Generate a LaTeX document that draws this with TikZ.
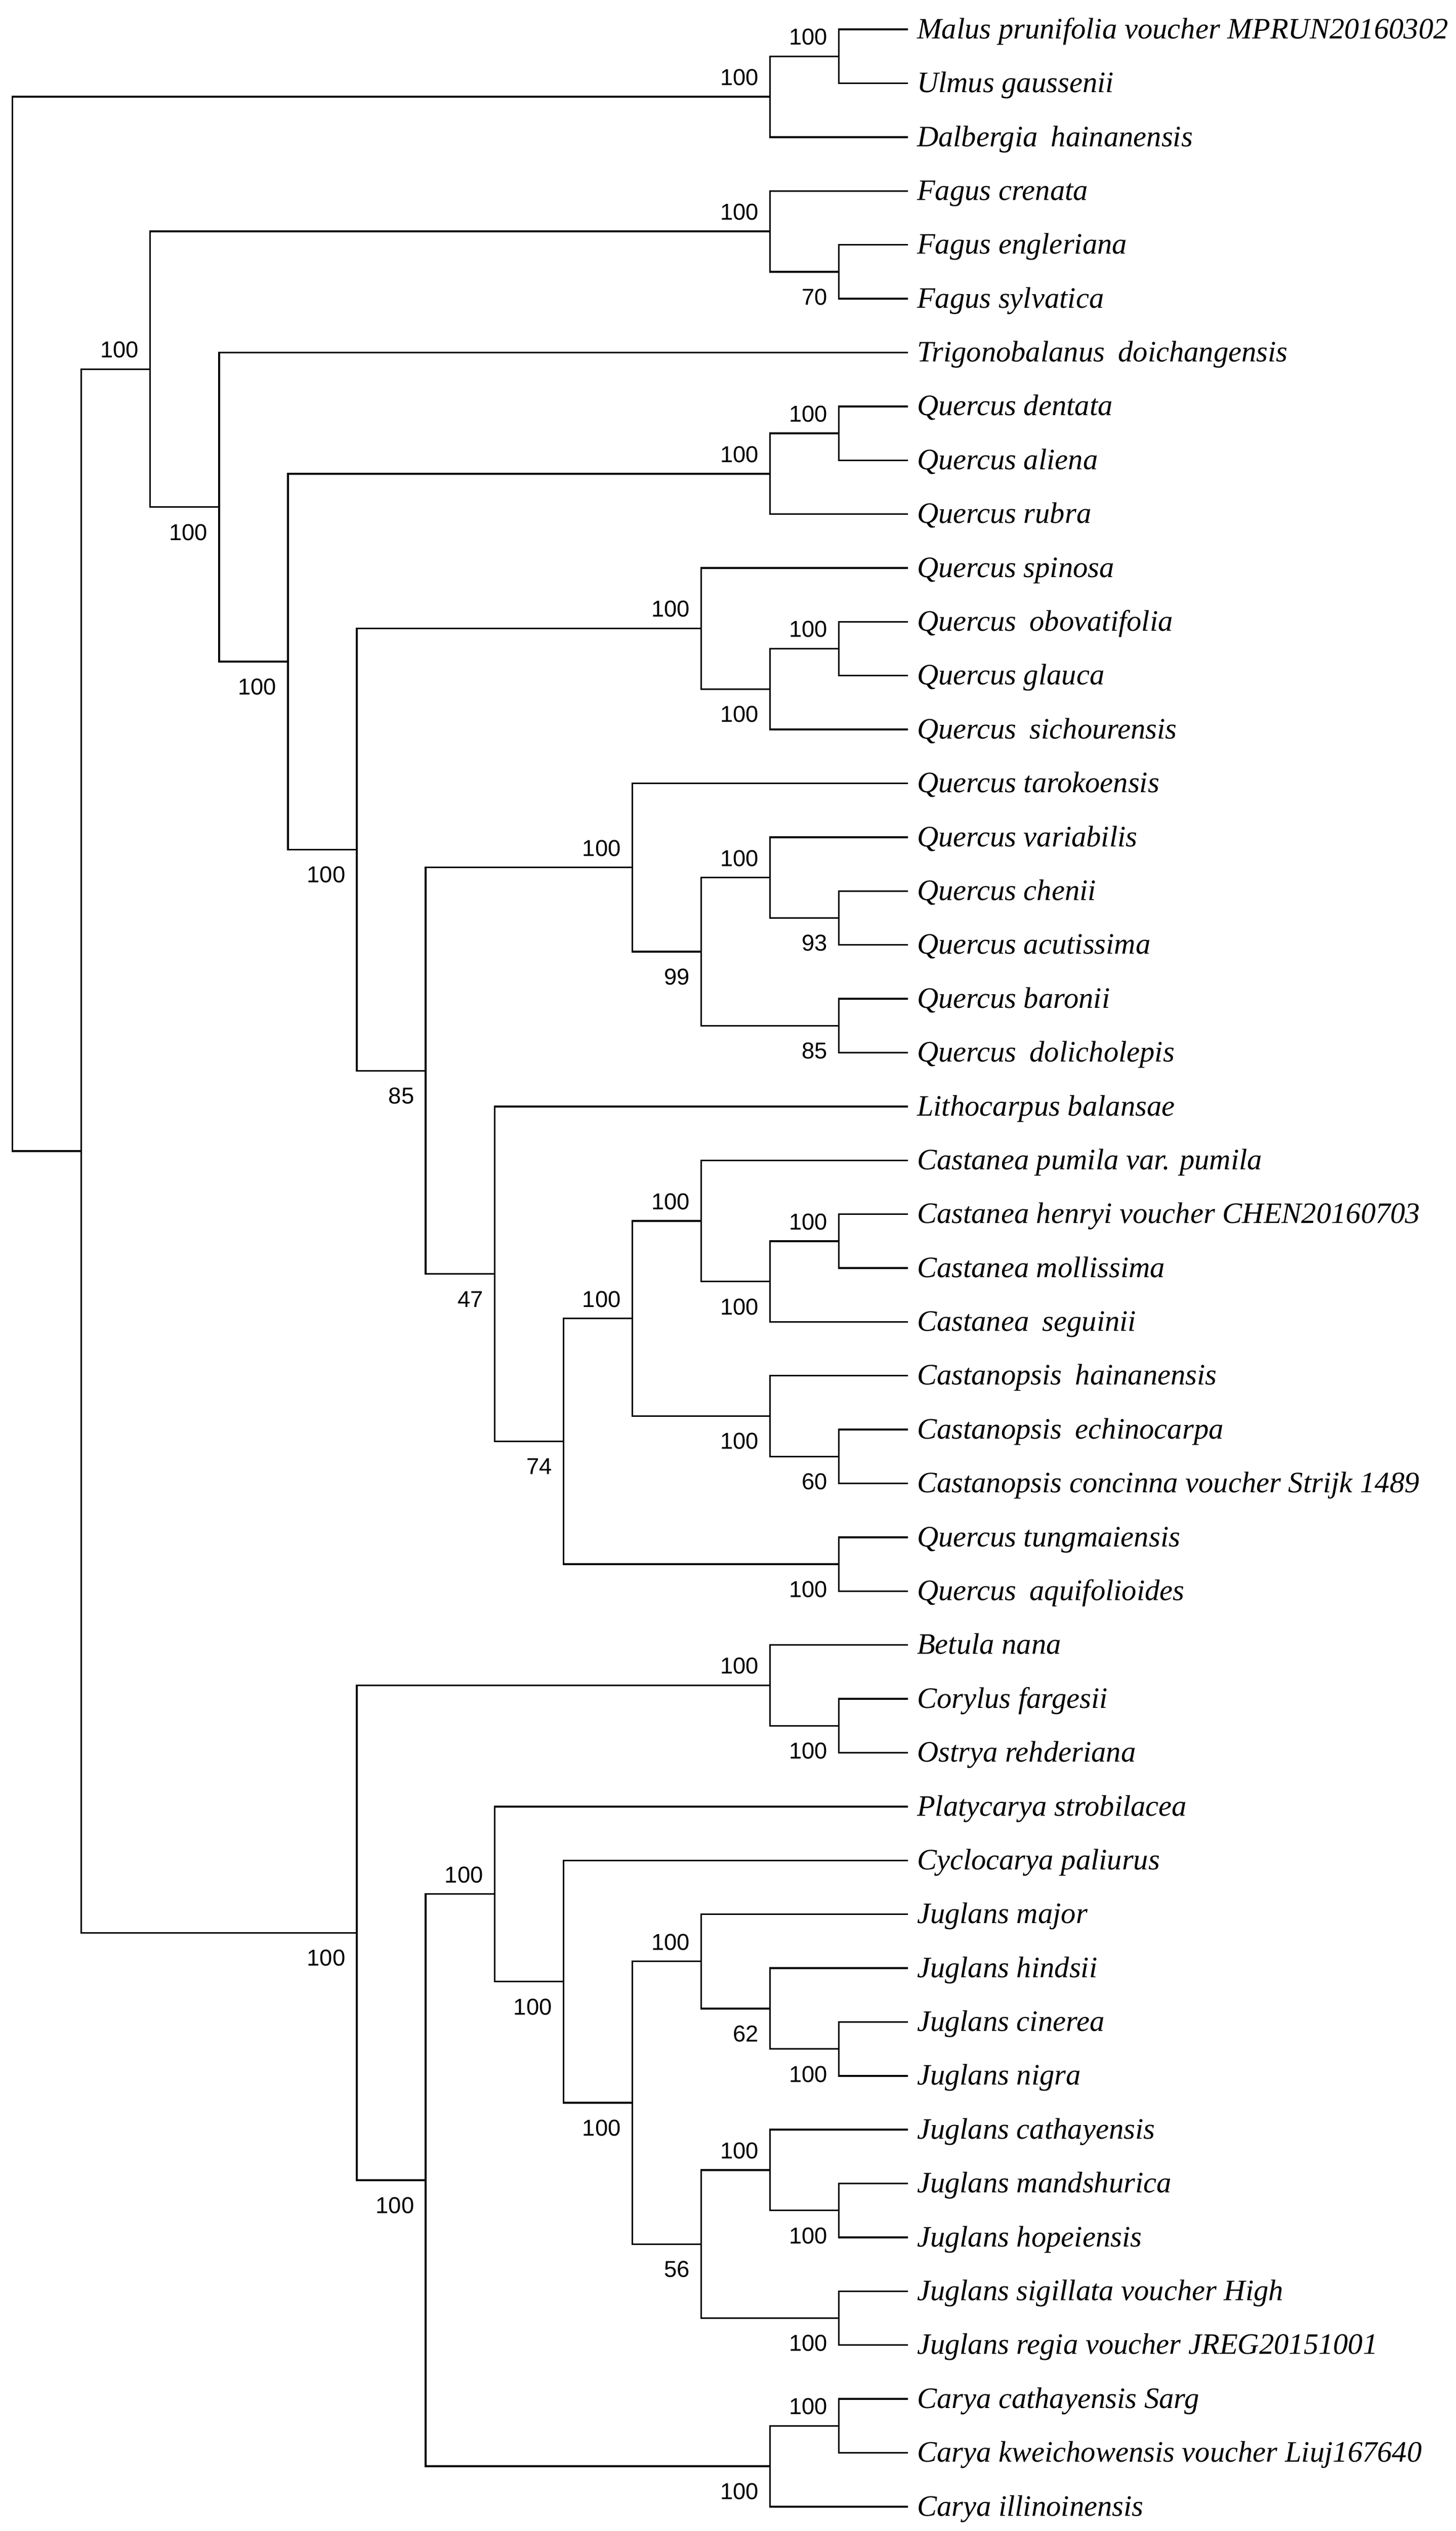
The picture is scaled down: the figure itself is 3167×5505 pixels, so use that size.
\documentclass[tikz,border=0pt]{standalone}
\usepackage{fontspec}
\setmainfont{Liberation Serif}
\newfontfamily\bootfont{Liberation Sans}
\usetikzlibrary{calc}

\newcommand\wsp{\hspace{0.45em}}
\newcommand\join[4]{%
  \path ($(#3)!.5!(#4)$) coordinate (#1m);
  \coordinate (#1) at (x#2 |- #1m);
  \draw[branch] (#3) -| (#1) |- (#4);}
\newcommand\clade[6]{\join{#1}{#2}{#3}{#4}\node[#6] (#1s) at (#1) {#5};}

\begin{document}
\begin{tikzpicture}[x=0.2pt, y=-0.2pt,
    branch/.style={line width=0.75pt, line join=miter},
    leaf/.style={anchor=base west, inner sep=0pt, xshift=3.8pt, yshift=-4pt,
      font=\fontsize{12.9}{15}\selectfont\itshape},
    boot/.style={anchor=base east, inner sep=0pt, xshift=-4.8pt,
      font=\bootfont\fontsize{10}{12}\selectfont},
    bup/.style={boot, yshift=5pt},
    bdn/.style={boot, yshift=-14.4pt}]
  \useasboundingbox (0,0) rectangle (3167,5505);
  \foreach \k in {0,...,13} \coordinate (x\k) at ({27+149.85*\k},0);
  \foreach \sp [count=\i] in {Malus prunifolia voucher MPRUN20160302,Ulmus gaussenii,Dalbergia\wsp hainanensis,
      Fagus crenata,Fagus engleriana,Fagus sylvatica,Trigonobalanus\wsp doichangensis,
      Quercus dentata,Quercus aliena,Quercus rubra,Quercus spinosa,Quercus\wsp obovatifolia,
      Quercus glauca,Quercus\wsp sichourensis,Quercus tarokoensis,Quercus variabilis,
      Quercus chenii,Quercus acutissima,Quercus baronii,Quercus\wsp dolicholepis,
      Lithocarpus balansae,Castanea pumila var. pumila,Castanea henryi voucher CHEN20160703,
      Castanea mollissima,Castanea\wsp seguinii,Castanopsis\wsp hainanensis,
      Castanopsis\wsp echinocarpa,Castanopsis concinna voucher Strijk 1489,
      Quercus tungmaiensis,Quercus\wsp aquifolioides,Betula nana,Corylus fargesii,
      Ostrya rehderiana,Platycarya strobilacea,Cyclocarya paliurus,Juglans major,
      Juglans hindsii,Juglans cinerea,Juglans nigra,Juglans cathayensis,Juglans mandshurica,
      Juglans hopeiensis,Juglans sigillata voucher High,Juglans regia voucher JREG20151001,
      Carya cathayensis Sarg,Carya kweichowensis voucher Liuj167640,Carya illinoinensis}
    {\coordinate (l\i) at (1975,{64+(\i-1)*117.13});
     \node[leaf] (t\i) at (l\i) {\sp};}
  % outgroup
  \clade{malul}{12}{l1}{l2}{100}{bup}
  \clade{outg}{11}{malul}{l3}{100}{bup}
  % Fagaceae
  \clade{fages}{12}{l5}{l6}{70}{bdn}
  \clade{fagus}{11}{l4}{fages}{100}{bup}
  \clade{qda}{12}{l8}{l9}{100}{bup}
  \clade{qdar}{11}{qda}{l10}{100}{bup}
  \clade{qog}{12}{l12}{l13}{100}{bup}
  \clade{qogs}{11}{qog}{l14}{100}{bdn}
  \clade{qspin}{10}{l11}{qogs}{100}{bup}
  \clade{qca}{12}{l17}{l18}{93}{bdn}
  \clade{qvca}{11}{l16}{qca}{100}{bup}
  \clade{qbd}{12}{l19}{l20}{85}{bdn}
  \clade{qvb}{10}{qvca}{qbd}{99}{bdn}
  \clade{qtar}{9}{l15}{qvb}{100}{bup}
  \clade{chm}{12}{l23}{l24}{100}{bup}
  \clade{chms}{11}{chm}{l25}{100}{bdn}
  \clade{castanea}{10}{l22}{chms}{100}{bup}
  \clade{cec}{12}{l27}{l28}{60}{bdn}
  \clade{castanopsis}{11}{l26}{cec}{100}{bdn}
  \clade{castan}{9}{castanea}{castanopsis}{100}{bup}
  \clade{qta}{12}{l29}{l30}{100}{bdn}
  \clade{cq}{8}{castan}{qta}{74}{bdn}
  \clade{lith}{7}{l21}{cq}{47}{bdn}
  \clade{qlith}{6}{qtar}{lith}{85}{bdn}
  \clade{qall}{5}{qspin}{qlith}{100}{bdn}
  \clade{quercus}{4}{qdar}{qall}{100}{bdn}
  \clade{trig}{3}{l7}{quercus}{100}{bdn}
  \clade{fagaceae}{2}{fagus}{trig}{100}{bup}
  % Betulaceae
  \clade{cor}{12}{l32}{l33}{100}{bdn}
  \clade{betulaceae}{11}{l31}{cor}{100}{bup}
  % Juglandaceae
  \clade{jcn}{12}{l38}{l39}{100}{bdn}
  \clade{jhcn}{11}{l37}{jcn}{62}{bdn}
  \clade{jmaj}{10}{l36}{jhcn}{100}{bup}
  \clade{jmh}{12}{l41}{l42}{100}{bdn}
  \clade{jcat}{11}{l40}{jmh}{100}{bup}
  \clade{jsr}{12}{l43}{l44}{100}{bdn}
  \clade{jasia}{10}{jcat}{jsr}{56}{bdn}
  \clade{juglans}{9}{jmaj}{jasia}{100}{bdn}
  \clade{cyclo}{8}{l35}{juglans}{100}{bdn}
  \clade{platy}{7}{l34}{cyclo}{100}{bup}
  \clade{cck}{12}{l45}{l46}{100}{bup}
  \clade{carya}{11}{cck}{l47}{100}{bdn}
  \clade{juglandaceae}{6}{platy}{carya}{100}{bdn}
  \clade{betjug}{5}{betulaceae}{juglandaceae}{100}{bdn}
  % ingroup and root
  \join{ingroup}{1}{fagaceae}{betjug}
  \join{root}{0}{outg}{ingroup}
\end{tikzpicture}
\end{document}
